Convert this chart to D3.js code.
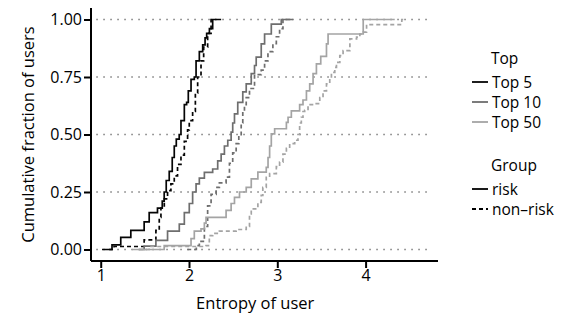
<!DOCTYPE html>
<html>
<head>
<meta charset="utf-8">
<script src="https://cdn.jsdelivr.net/npm/d3@7"></script>
<style>
  html, body { margin: 0; padding: 0; background: #fff; }
  svg { display: block; font-family: "Open Sans", "Noto Sans", sans-serif; }
</style>
</head>
<body>
<svg id="chart" width="566" height="320"></svg>
<script>
// Empirical CDF of user entropy, step points (entropy, cumulative fraction)
const top5RiskX = [1.015, 1.128, 1.227, 1.341, 1.492, 1.549, 1.643, 1.697, 1.719, 1.742, 1.776, 1.810, 1.833, 1.856, 1.889, 1.909, 1.947, 1.973, 1.992, 2.023, 2.060, 2.080, 2.117, 2.155, 2.182, 2.200, 2.231, 2.268, 2.364];
const top5RiskF = [0, 0.02, 0.053, 0.083, 0.12, 0.16, 0.18, 0.21, 0.25, 0.30, 0.34, 0.40, 0.45, 0.48, 0.50, 0.56, 0.63, 0.64, 0.69, 0.74, 0.75, 0.82, 0.86, 0.89, 0.92, 0.94, 0.96, 1.0, 1.0];

const top5NonRiskX = [1.094, 1.151, 1.492, 1.625, 1.663, 1.682, 1.720, 1.757, 1.795, 1.833, 1.870, 1.909, 1.947, 1.984, 2.003, 2.041, 2.072, 2.098, 2.136, 2.166, 2.211, 2.25, 2.30];
const top5NonRiskF = [0, 0.013, 0.042, 0.083, 0.14, 0.18, 0.22, 0.256, 0.285, 0.32, 0.37, 0.41, 0.47, 0.52, 0.56, 0.60, 0.68, 0.75, 0.82, 0.88, 0.94, 1.0, 1.0];

const top10RiskX = [1.436, 1.492, 1.625, 1.757, 1.890, 1.947, 2.003, 2.041, 2.080, 2.117, 2.174, 2.268, 2.325, 2.364, 2.401, 2.439, 2.477, 2.495, 2.515, 2.552, 2.609, 2.648, 2.705, 2.742, 2.761, 2.818, 2.856, 2.932, 3.045, 3.177];
const top10RiskF = [0, 0.015, 0.04, 0.08, 0.11, 0.16, 0.20, 0.25, 0.285, 0.31, 0.335, 0.35, 0.385, 0.415, 0.45, 0.475, 0.51, 0.55, 0.59, 0.64, 0.685, 0.72, 0.765, 0.80, 0.836, 0.894, 0.937, 0.98, 1.0, 1.0];

const top10NonRiskX = [1.98, 2.083, 2.117, 2.174, 2.211, 2.25, 2.307, 2.344, 2.42, 2.458, 2.495, 2.534, 2.564, 2.591, 2.609, 2.628, 2.648, 2.685, 2.742, 2.818, 2.856, 2.894, 2.95, 2.989, 3.026, 3.064, 3.177];
const top10NonRiskF = [0, 0.017, 0.035, 0.10, 0.19, 0.24, 0.27, 0.29, 0.315, 0.375, 0.42, 0.46, 0.495, 0.55, 0.60, 0.63, 0.66, 0.70, 0.76, 0.78, 0.82, 0.86, 0.895, 0.925, 0.96, 1.0, 1.0];

const top50RiskX = [1.359, 1.719, 2.023, 2.06, 2.136, 2.174, 2.193, 2.42, 2.477, 2.515, 2.572, 2.648, 2.705, 2.78, 2.875, 2.895, 2.913, 2.932, 2.97, 3.103, 3.122, 3.159, 3.253, 3.291, 3.33, 3.367, 3.405, 3.443, 3.492, 3.557, 3.575, 3.973, 4.33];
const top50RiskF = [0, 0.017, 0.047, 0.08, 0.09, 0.115, 0.14, 0.17, 0.20, 0.227, 0.25, 0.27, 0.307, 0.336, 0.357, 0.40, 0.45, 0.503, 0.525, 0.553, 0.575, 0.603, 0.63, 0.65, 0.69, 0.72, 0.765, 0.807, 0.84, 0.894, 0.937, 1.0, 1.0];

const top50NonRiskX = [1.436, 1.549, 2.193, 2.23, 2.268, 2.344, 2.534, 2.648, 2.685, 2.705, 2.78, 2.818, 2.836, 2.875, 2.913, 2.989, 3.026, 3.064, 3.103, 3.14, 3.197, 3.234, 3.253, 3.272, 3.291, 3.31, 3.348, 3.424, 3.481, 3.518, 3.557, 3.594, 3.613, 3.651, 3.67, 3.708, 3.745, 3.822, 3.898, 3.935, 3.973, 4.011, 4.41, 4.46];
const top50NonRiskF = [0, 0.013, 0.017, 0.06, 0.07, 0.08, 0.087, 0.10, 0.155, 0.177, 0.205, 0.235, 0.27, 0.314, 0.33, 0.36, 0.38, 0.415, 0.44, 0.46, 0.475, 0.50, 0.55, 0.575, 0.60, 0.605, 0.63, 0.634, 0.66, 0.69, 0.72, 0.742, 0.77, 0.792, 0.814, 0.843, 0.865, 0.916, 0.923, 0.937, 0.945, 0.978, 1.0, 1.0];

const topLevels = ["Top 5", "Top 10", "Top 50"];
const groupLevels = ["risk", "non\u2013risk"];
const xTicks = [1, 2, 3, 4];
const yTicks = [0, 0.25, 0.5, 0.75, 1];

const series = [
  { top: "Top 5",  group: "risk",         x: top5RiskX,     f: top5RiskF },
  { top: "Top 5",  group: "non\u2013risk", x: top5NonRiskX,  f: top5NonRiskF },
  { top: "Top 10", group: "risk",         x: top10RiskX,    f: top10RiskF },
  { top: "Top 10", group: "non\u2013risk", x: top10NonRiskX, f: top10NonRiskF },
  { top: "Top 50", group: "risk",         x: top50RiskX,    f: top50RiskF },
  { top: "Top 50", group: "non\u2013risk", x: top50NonRiskX, f: top50NonRiskF }
];

const colour = d3.scaleOrdinal().domain(topLevels).range(["#050505", "#6e6e6e", "#a4a4a4"]);
const dash = d3.scaleOrdinal().domain(groupLevels).range(["none", "4,3"]);

const svg = d3.select("#chart");
const panel = { left: 91, right: 438, top: 8, bottom: 261 };
const textColour = "#000";

const x = d3.scaleLinear().domain([0.89, 4.82]).range([panel.left, panel.right]);
const y = d3.scaleLinear().domain([-0.05, 1.05]).range([panel.bottom, panel.top]);

// dotted horizontal reference lines
svg.append("g").selectAll("line").data(yTicks).join("line")
  .attr("x1", x(0.95)).attr("x2", x(4.75))
  .attr("y1", d => y(d)).attr("y2", d => y(d))
  .attr("stroke", "#7d7d7d").attr("stroke-width", 1.5)
  .attr("stroke-dasharray", "1.5,5.5");

// step lines
const line = d3.line().x(d => x(d[0])).y(d => y(d[1])).curve(d3.curveStepAfter);
svg.append("g").selectAll("path").data(series).join("path")
  .attr("d", s => line(s.x.map((v, i) => [v, s.f[i]])))
  .attr("fill", "none")
  .attr("stroke", s => colour(s.top))
  .attr("stroke-width", 1.7)
  .attr("stroke-dasharray", s => dash(s.group));

// axes
const xAxis = d3.axisBottom(x).tickValues(xTicks).tickFormat(d3.format("d")).tickSize(7).tickPadding(2);
const yAxis = d3.axisLeft(y).tickValues(yTicks).tickFormat(d3.format(".2f")).tickSize(7).tickPadding(2);

const gx = svg.append("g").attr("transform", `translate(0,${panel.bottom})`).call(xAxis);
const gy = svg.append("g").attr("transform", `translate(${panel.left},0)`).call(yAxis);
[gx, gy].forEach(g => {
  g.select(".domain").attr("stroke", "#000").attr("stroke-width", 2);
  g.selectAll(".tick line").attr("stroke", "#000").attr("stroke-width", 2);
  g.selectAll(".tick text").attr("fill", textColour).style("font-size", "16px")
    .style("font-family", "'Open Sans', 'Noto Sans', sans-serif");
});
gx.select(".domain").attr("d", `M${panel.left},0H${panel.right}`);
gy.select(".domain").attr("d", `M0,${panel.top}V${panel.bottom}`);

// axis titles
svg.append("text").attr("x", (x(1) + x(4.5)) / 2).attr("y", 309)
  .attr("text-anchor", "middle").attr("fill", textColour).style("font-size", "16.5px")
  .text("Entropy of user");
svg.append("text")
  .attr("transform", `translate(34,${(y(0) + y(1)) / 2}) rotate(-90)`)
  .attr("text-anchor", "middle").attr("fill", textColour).style("font-size", "16.5px")
  .text("Cumulative fraction of users");

// legends
const leg = svg.append("g").attr("transform", "translate(472,0)");
leg.append("text").attr("x", 19).attr("y", 64).style("font-size", "15.5px").attr("fill", textColour).text("Top");
const topRows = leg.selectAll("g.top").data(topLevels).join("g").attr("class", "top")
  .attr("transform", (d, i) => `translate(0,${82 + i * 20})`);
topRows.append("line").attr("x1", 0).attr("x2", 16).attr("stroke", d => colour(d)).attr("stroke-width", 1.8);
topRows.append("text").attr("x", 20).attr("y", 5.5).style("font-size", "15.5px").attr("fill", textColour).text(d => d);

leg.append("text").attr("x", 19).attr("y", 171).style("font-size", "15.5px").attr("fill", textColour).text("Group");
const grpRows = leg.selectAll("g.grp").data(groupLevels).join("g").attr("class", "grp")
  .attr("transform", (d, i) => `translate(0,${189 + i * 20})`);
grpRows.append("line").attr("x1", 0).attr("x2", 16).attr("stroke", "#000").attr("stroke-width", 1.8)
  .attr("stroke-dasharray", d => dash(d));
grpRows.append("text").attr("x", 20).attr("y", 5.5).style("font-size", "15.5px").attr("fill", textColour).text(d => d);
</script>
</body>
</html>
